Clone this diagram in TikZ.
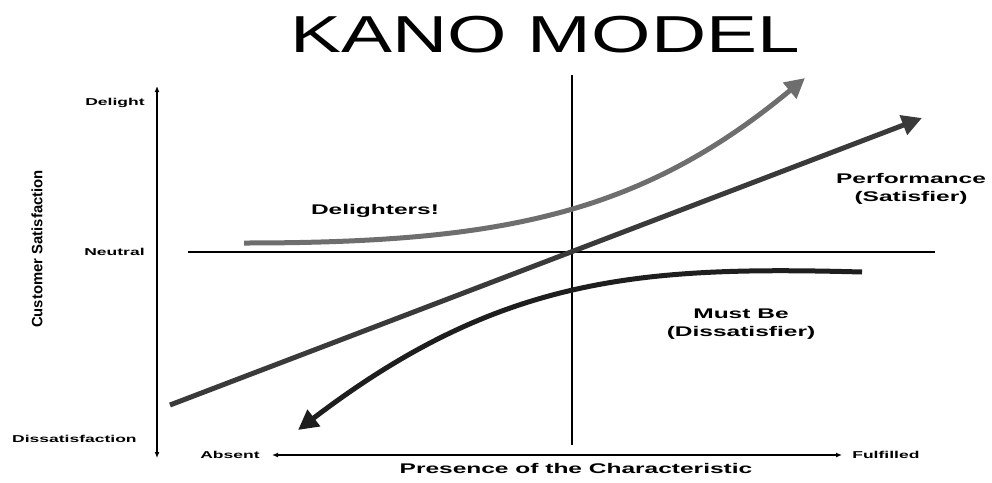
\documentclass[tikz,border=0pt]{standalone}
\usepackage{fontspec}
\setmainfont{Liberation Sans}
\usetikzlibrary{arrows.meta}
\definecolor{delc}{HTML}{6E6E6E}
\definecolor{perfc}{HTML}{3A3A3A}
\definecolor{mustc}{HTML}{1E1E1E}
\begin{document}
\begin{tikzpicture}[x=1pt,y=-1pt,
  axis/.style={line width=1.3pt,black},
  curve/.style={line width=5pt,-{Triangle[length=20pt,width=20pt]}},
  small/.style={font=\fontsize{10}{11}\selectfont\bfseries,xscale=1.75,inner sep=0pt},
  lbl/.style={font=\fontsize{14}{18}\selectfont\bfseries,xscale=1.75,align=center,inner sep=0pt}]
\useasboundingbox (0,0) rectangle (992,482);
% title
\node[font=\fontsize{52}{56}\selectfont,xscale=1.47,inner sep=0pt] (title) at (545,35) {KANO MODEL};
% axes
\coordinate (ytop) at (157,86);
\coordinate (ybot) at (157,458);
\draw[axis,{Latex[length=6pt,width=5pt]}-{Latex[length=6pt,width=5pt]}] (ytop) -- (ybot);
\coordinate (xl) at (272,455);
\coordinate (xr) at (842,455);
\draw[axis,{Latex[length=6pt,width=5pt]}-{Latex[length=6pt,width=5pt]}] (xl) -- (xr);
% cross
\coordinate (vt) at (572,75);
\coordinate (vb) at (572,445);
\coordinate (hl) at (188,252);
\coordinate (hr) at (935,252);
\draw[line width=1.6pt] (vt) -- (vb);
\draw[line width=1.6pt] (hl) -- (hr);
% axis labels
\node[small,anchor=east] (delight) at (145,103) {Delight};
\node[small,anchor=east] (neutral) at (145,252) {Neutral};
\node[small,anchor=east] (dissat) at (137,439) {Dissatisfaction};
\node[small,anchor=east] (absent) at (260,455) {Absent};
\node[small,anchor=west] (fulfilled) at (852,455) {Fulfilled};
\node[font=\fontsize{15}{17}\selectfont\bfseries,rotate=90,inner sep=0pt] (cs) at (37,249) {\scalebox{0.99}[1]{Customer Satisfaction}};
\node[lbl] (pres) at (576,468) {Presence of the Characteristic};
% curves
\coordinate (ps) at (170,405);
\coordinate (pe) at (922,118);
\draw[curve,perfc] (ps) -- (pe);
\coordinate (ds) at (244,243);
\coordinate (de) at (805,78);
\draw[curve,delc] (ds) .. controls (500,243) and (640,215) .. (de);
\coordinate (ms) at (862,272);
\coordinate (me) at (298,430);
\draw[curve,mustc] (ms) .. controls (640,266) and (500,276) .. (me);
% labels
\node[lbl] (deltxt) at (375,211) {Delighters!};
\node[lbl] (perftxt) at (911,189) {Performance\\(Satisfier)};
\node[lbl] (musttxt) at (741,324) {Must Be\\(Dissatisfier)};
\end{tikzpicture}
\end{document}
